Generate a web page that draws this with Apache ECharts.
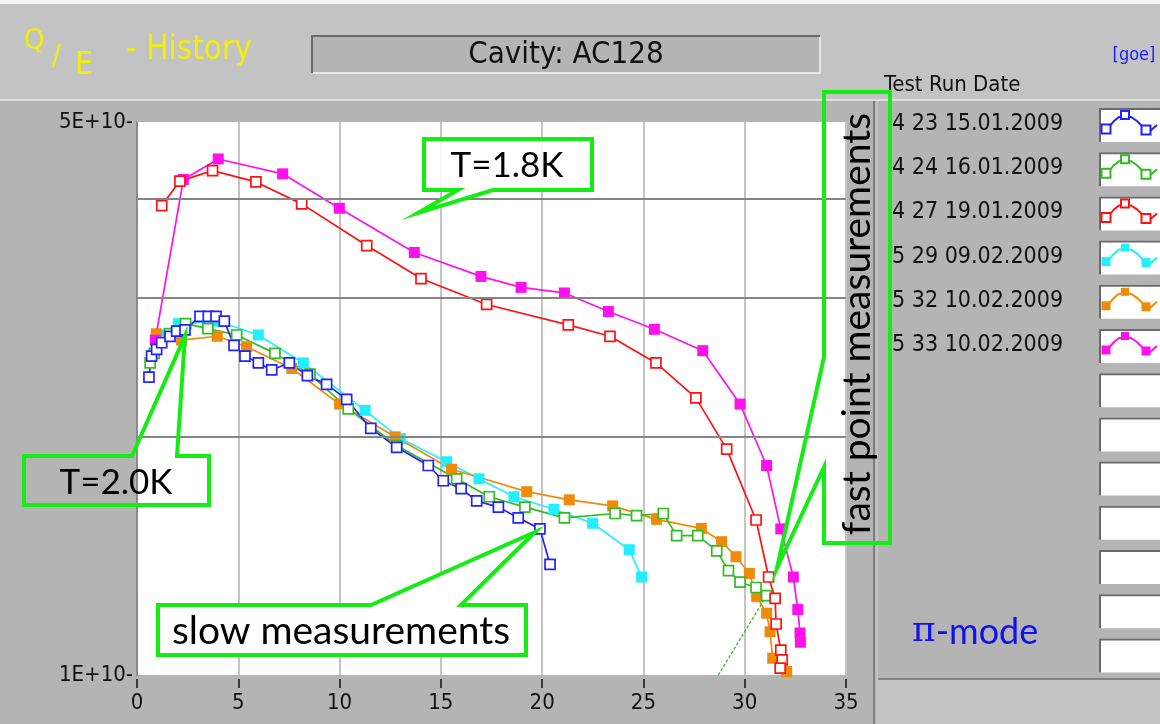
<!DOCTYPE html>
<html>
<head>
<meta charset="utf-8">
<script src="https://cdn.jsdelivr.net/npm/echarts@6/dist/echarts.min.js"></script>
<style>
  html, body { margin: 0; padding: 0; background: #c3c3c3; }
  #chart { width: 1160px; height: 724px; }
</style>
</head>
<body>
<div id="chart"></div>
<script>
// Q0 versus accelerating gradient (MV/m), cavity AC128, one list pair per test run.
const runLabels = ['4 23 15.01.2009', '4 24 16.01.2009', '4 27 19.01.2009',
                   '5 29 09.02.2009', '5 32 10.02.2009', '5 33 10.02.2009'];
const runColors = ['#2222ff', '#33bb22', '#ff1111', '#22eeff', '#ee8c0a', '#ff11ee'];
const runFilled = [false, false, false, true, true, true];

const eBlue = [0.59, 0.72, 0.97, 1.22, 1.63, 1.96, 2.37, 3.11, 3.52, 3.90, 4.31, 4.79, 5.33, 5.99, 6.65,
               7.52, 8.41, 9.36, 10.35, 11.54, 12.82, 14.38, 15.12, 16.0, 16.77, 17.84, 18.82, 19.89, 20.39];
const qBlue = [2.38e10, 2.53e10, 2.58e10, 2.63e10, 2.68e10, 2.72e10, 2.73e10, 2.84e10, 2.84e10, 2.84e10, 2.80e10,
               2.61e10, 2.53e10, 2.48e10, 2.43e10, 2.48e10, 2.39e10, 2.33e10, 2.23e10, 2.05e10, 1.94e10, 1.84e10,
               1.76e10, 1.72e10, 1.66e10, 1.63e10, 1.58e10, 1.53e10, 1.38e10];

const eGreen = [0.65, 0.85, 1.6, 2.4, 3.5, 4.92, 6.81, 8.54, 10.43, 12.82, 15.78, 17.39, 19.15, 21.1, 23.6,
                24.66, 25.98, 26.64, 27.68, 28.62, 29.2, 29.77, 30.56, 31.08];
const qGreen = [2.48e10, 2.55e10, 2.70e10, 2.78e10, 2.74e10, 2.69e10, 2.55e10, 2.40e10, 2.17e10, 1.95e10, 1.77e10,
                1.68e10, 1.63e10, 1.58e10, 1.60e10, 1.59e10, 1.60e10, 1.50e10, 1.50e10, 1.435e10, 1.355e10,
                1.31e10, 1.29e10, 1.26e10];

const eRed = [1.22, 2.12, 3.73, 5.87, 8.13, 11.34, 14.02, 17.26, 21.29, 23.35, 25.62, 27.59, 29.11, 30.56,
              31.18, 31.5, 31.55, 31.78, 31.85, 31.75];
const qRed = [3.92e10, 4.21e10, 4.34e10, 4.20e10, 3.94e10, 3.49e10, 3.17e10, 2.94e10, 2.77e10, 2.68e10, 2.48e10,
              2.24e10, 1.93e10, 1.57e10, 1.33e10, 1.25e10, 1.16e10, 1.075e10, 1.045e10, 1.02e10];

const eCyan = [1.14, 2.04, 4.0, 5.99, 8.21, 11.26, 13.0, 15.29, 16.88, 18.61, 20.58, 22.49, 24.3, 24.91];
const qCyan = [2.69e10, 2.78e10, 2.80e10, 2.69e10, 2.48e10, 2.16e10, 1.99e10, 1.86e10, 1.77e10, 1.68e10, 1.62e10,
               1.555e10, 1.44e10, 1.33e10];

const eOrange = [0.95, 2.2, 3.96, 5.41, 7.64, 10.0, 12.74, 15.53, 19.24, 21.34, 23.48, 25.65, 27.86, 28.86,
                 29.57, 30.23, 30.59, 31.08, 31.25, 31.38, 32.07];
const qOrange = [2.70e10, 2.65e10, 2.68e10, 2.60e10, 2.44e10, 2.2e10, 2.0e10, 1.82e10, 1.705e10, 1.665e10,
                 1.636e10, 1.573e10, 1.532e10, 1.474e10, 1.411e10, 1.344e10, 1.256e10, 1.197e10, 1.134e10,
                 1.05e10, 1.01e10];

const eMagenta = [0.9, 2.29, 4.01, 7.19, 9.99, 13.69, 16.98, 18.96, 21.1, 23.27, 25.54, 27.93, 29.77, 31.08,
                  31.78, 32.4, 32.62, 32.73, 32.75];
const qMagenta = [2.65e10, 4.23e10, 4.49e10, 4.30e10, 3.89e10, 3.42e10, 3.19e10, 3.09e10, 3.04e10, 2.88e10,
                  2.735e10, 2.57e10, 2.20e10, 1.84e10, 1.53e10, 1.33e10, 1.21e10, 1.13e10, 1.10e10];

// fast point measurement trace of run 4 24
const eGreenFast = [31.08, 28.7];
const qGreenFast = [1.26e10, 1.0e10];

// horizontal reference lines and labelled decade ends
const qGridLines = [2e10, 3e10, 4e10];
const qAxisLabels = [1e10, 5e10];

const runE = [eBlue, eGreen, eRed, eCyan, eOrange, eMagenta];
const runQ = [qBlue, qGreen, qRed, qCyan, qOrange, qMagenta];

const zip = (xs, ys) => xs.map((x, i) => [x, ys[i]]);
const NARROW = "'DejaVu Sans Condensed', 'Liberation Sans Narrow', 'DejaVu Sans', sans-serif";
const CALLOUT_FONT = "Lato, 'Open Sans', sans-serif";
const GREEN = '#14ec14';

// draw order: later runs on top
const drawOrder = [3, 4, 5, 1, 2, 0];
const series = [{
  type: 'line', data: [], z: 1, silent: true,
  markLine: {
    silent: true, symbol: 'none', animation: false,
    label: { show: false },
    lineStyle: { color: '#858585', width: 2, type: 'solid' },
    data: qGridLines.map(q => ({ yAxis: q }))
  }
}];
drawOrder.forEach(i => {
  series.push({
    name: runLabels[i],
    type: 'line',
    data: zip(runE[i], runQ[i]),
    symbol: 'rect',
    symbolSize: runFilled[i] ? 11 : 10,
    showAllSymbol: true,
    lineStyle: { color: runColors[i], width: 1.7 },
    itemStyle: runFilled[i]
      ? { color: runColors[i] }
      : { color: '#ffffff', borderColor: runColors[i], borderWidth: 1.7 },
    z: 3
  });
});
series.push({
  type: 'line',
  data: zip(eGreenFast, qGreenFast),
  symbol: 'none',
  lineStyle: { color: runColors[1], width: 1.3, type: [3, 2] },
  z: 3
});

// ---- panel decorations, legend and callouts ----
const graphics = [];
// panels
graphics.push({ type: 'rect', shape: { x: 0, y: 0, width: 1160, height: 4 }, style: { fill: '#f4f4f4' }, z: -10, silent: true });
graphics.push({ type: 'rect', shape: { x: 0, y: 100, width: 1160, height: 624 }, style: { fill: '#b4b4b4' }, z: -10, silent: true });
graphics.push({ type: 'line', shape: { x1: 0, y1: 100, x2: 1160, y2: 100 }, style: { stroke: '#dedede', lineWidth: 2 }, z: -9, silent: true });
graphics.push({ type: 'line', shape: { x1: 874, y1: 101, x2: 874, y2: 724 }, style: { stroke: '#6e6e6e', lineWidth: 1.5 }, z: -9, silent: true });
graphics.push({ type: 'line', shape: { x1: 877, y1: 101, x2: 877, y2: 724 }, style: { stroke: '#d0d0d0', lineWidth: 1 }, z: -9, silent: true });
graphics.push({ type: 'rect', shape: { x: 878, y: 679, width: 282, height: 45 }, style: { fill: '#c3c3c3' }, z: -9, silent: true });
graphics.push({ type: 'line', shape: { x1: 878, y1: 679, x2: 1160, y2: 679 }, style: { stroke: '#6e6e6e', lineWidth: 1.5 }, z: -8, silent: true });

// title block
const YEL = '#f0f00c';
graphics.push({ type: 'text', style: { text: 'Q', x: 24, y: 41, fill: YEL, font: '29px ' + NARROW, textVerticalAlign: 'middle' } });
graphics.push({ type: 'text', style: { text: '/', x: 52, y: 57, fill: YEL, font: '29px ' + NARROW, textVerticalAlign: 'middle' } });
graphics.push({ type: 'text', style: { text: 'E', x: 75, y: 66, fill: YEL, font: '32px ' + NARROW, textVerticalAlign: 'middle' } });
graphics.push({ type: 'text', style: { text: '- History', x: 126, y: 50, fill: YEL, font: '33px ' + NARROW, textVerticalAlign: 'middle' } });

graphics.push({ type: 'rect', shape: { x: 312, y: 36, width: 508, height: 37 }, style: { fill: '#b4b4b4' }, silent: true });
graphics.push({ type: 'polyline', shape: { points: [[312, 73], [312, 36], [820, 36]] }, style: { stroke: '#6a6a6a', lineWidth: 2, fill: null }, silent: true });
graphics.push({ type: 'polyline', shape: { points: [[313, 73], [820, 73], [820, 37]] }, style: { stroke: '#e6e6e6', lineWidth: 2, fill: null }, silent: true });
graphics.push({ type: 'text', style: { text: 'Cavity: AC128', x: 566, y: 55, fill: '#111', font: '31px ' + NARROW, textAlign: 'center', textVerticalAlign: 'middle' } });
graphics.push({ type: 'text', style: { text: '[goe]', x: 1134, y: 55, fill: '#1a1aff', font: '18px ' + NARROW, textAlign: 'center', textVerticalAlign: 'middle' } });
graphics.push({ type: 'text', style: { text: 'Test Run Date', x: 884, y: 85, fill: '#111', font: '22px ' + NARROW, textVerticalAlign: 'middle' } });

// legend rows: six runs, then empty slots
const rowStep = 44.2;
for (let r = 0; r < 13; r++) {
  const top = 108 + r * rowStep;
  graphics.push({ type: 'rect', shape: { x: 1099, y: top, width: 62, height: 34 }, style: { fill: '#ffffff' }, silent: true });
  graphics.push({ type: 'polyline', shape: { points: [[1100, top + 34], [1100, top + 1], [1161, top + 1]] }, style: { stroke: '#6a6a6a', lineWidth: 2, fill: null }, silent: true });
  if (r < runLabels.length) {
    const c = runColors[r];
    graphics.push({ type: 'text', style: { text: runLabels[r], x: 892, y: top + 16, fill: '#111', font: '23px ' + NARROW, textVerticalAlign: 'middle' } });
    graphics.push({
      type: 'polyline',
      shape: { points: [[1103, top + 23], [1108, top + 20], [1114, top + 13], [1119, top + 9], [1131, top + 9], [1137, top + 13], [1144, top + 20], [1150, top + 23], [1157, top + 17]] },
      style: { stroke: c, lineWidth: 2, fill: null }, silent: true
    });
    [[1106, top + 21], [1125, top + 7], [1146, top + 22]].forEach(([mx, my], k) => {
      const s = k === 1 ? 8 : 9;
      graphics.push({
        type: 'rect', shape: { x: mx - s / 2, y: my - s / 2, width: s, height: s },
        style: runFilled[r] ? { fill: c } : { fill: '#fff', stroke: c, lineWidth: 2 }, silent: true
      });
    });
  }
}

// pi-mode label
graphics.push({
  type: 'text',
  style: {
    x: 912, y: 632, textVerticalAlign: 'middle',
    text: '{p|π}{m|-mode}',
    rich: {
      p: { fill: '#1111ee', font: "36px 'DejaVu Serif', 'Liberation Serif', serif" },
      m: { fill: '#1111ee', font: '36px ' + CALLOUT_FONT }
    }
  }
});

// callouts
function callout(points, fill) {
  graphics.push({
    type: 'polygon', shape: { points },
    style: { fill: fill || null, stroke: GREEN, lineWidth: 4, lineJoin: 'miter' },
    z: 20, silent: true
  });
}
callout([[424, 139], [592, 139], [592, 190], [493, 190], [418, 213], [458, 190], [424, 190]], 'rgba(255,255,255,0.85)');
graphics.push({ type: 'text', z: 21, style: { text: 'T=1.8K', x: 507, y: 166, fill: '#000', font: '35px ' + CALLOUT_FONT, textAlign: 'center', textVerticalAlign: 'middle' } });

callout([[24, 456], [132, 456], [185, 336], [177, 456], [209, 456], [209, 505], [24, 505]]);
graphics.push({ type: 'text', z: 21, style: { text: 'T=2.0K', x: 116, y: 483, fill: '#000', font: '35px ' + CALLOUT_FONT, textAlign: 'center', textVerticalAlign: 'middle' } });

callout([[158, 605], [371, 605], [535, 532], [461, 605], [526, 605], [526, 655], [158, 655]], '#ffffff');
graphics.push({ type: 'text', z: 21, style: { text: 'slow measurements', x: 341, y: 631, fill: '#000', font: '39px ' + CALLOUT_FONT, textAlign: 'center', textVerticalAlign: 'middle' } });

callout([[824, 92], [890, 92], [890, 543], [824, 543], [824, 467], [777, 568], [824, 357]]);
graphics.push({ type: 'text', z: 21, x: 857, y: 324, rotation: Math.PI / 2, style: { text: 'fast point measurements', x: 0, y: 0, fill: '#000', font: '39px ' + CALLOUT_FONT, textAlign: 'center', textVerticalAlign: 'middle' } });

const chart = echarts.init(document.getElementById('chart'), null, { renderer: 'canvas' });
chart.setOption({
  animation: false,
  backgroundColor: '#c3c3c3',
  grid: { left: 137, right: 314, top: 122, bottom: 49, show: true, backgroundColor: '#ffffff', borderWidth: 0 },
  xAxis: {
    type: 'value', min: 0, max: 35, interval: 5, offset: 4,
    axisLine: { show: true, lineStyle: { color: 'rgba(0,0,0,0)', width: 0 } },
    axisTick: { show: true, inside: false, length: 9, lineStyle: { color: '#111', width: 1.5 } },
    axisLabel: { color: '#111', fontSize: 22, fontFamily: NARROW, margin: 13 },
    splitLine: { show: true, lineStyle: { color: '#c4c4c4', width: 2 } }
  },
  yAxis: {
    type: 'log', logBase: 10, min: 1e10, max: 5e10,
    axisLine: { show: true, lineStyle: { color: '#8a8a8a', width: 2 } },
    axisTick: { show: false },
    splitLine: { show: false },
    minorTick: { show: false },
    axisLabel: {
      customValues: qAxisLabels,
      color: '#111', fontSize: 22, fontFamily: NARROW, margin: 4,
      formatter: v => Math.round(v / 1e10) + 'E+10-'
    }
  },
  series,
  graphic: graphics
});
</script>
</body>
</html>
